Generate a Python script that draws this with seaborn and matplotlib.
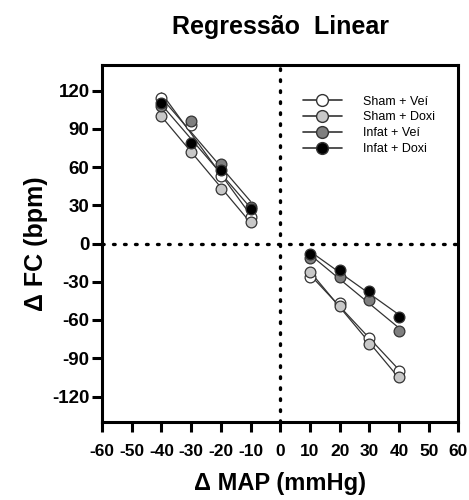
"""Linear regression of heart rate vs MAP changes, by group."""
import numpy as np
import pandas as pd
import matplotlib
matplotlib.use("Agg")
import matplotlib.pyplot as plt
from matplotlib.lines import Line2D
import seaborn as sns

# data
groups = ['Sham + Veí', 'Sham + Doxi', 'Infat + Veí', 'Infat + Doxi']
colors = ['#ffffff', '#c8c8c8', '#7f7f7f', '#000000']

map_neg = [-40, -30, -20, -10]
map_pos = [10, 20, 30, 40]

fc_neg = {
    'Sham + Veí':   [114, 93, 53, 21],
    'Sham + Doxi':  [100, 72, 43, 17],
    'Infat + Veí':  [108, 96, 62, 29],
    'Infat + Doxi': [110, 79, 58, 27],
}
fc_pos = {
    'Sham + Veí':   [-26, -47, -74, -100],
    'Sham + Doxi':  [-22, -49, -79, -105],
    'Infat + Veí':  [-11, -26, -44, -69],
    'Infat + Doxi': [-8, -21, -37, -58],
}

yticks = [-120, -90, -60, -30, 0, 30, 60, 90, 120]
xticks = list(range(-60, 61, 10))

rows = []
for g in groups:
    for x, y in zip(map_neg, fc_neg[g]):
        rows.append((g, 'neg', x, y))
    for x, y in zip(map_pos, fc_pos[g]):
        rows.append((g, 'pos', x, y))
df = pd.DataFrame(rows, columns=['grupo', 'lado', 'map', 'fc'])

sns.set_style('ticks')
plt.rcParams['font.family'] = ['Liberation Sans', 'DejaVu Sans']
for k in ['text.color', 'axes.labelcolor', 'xtick.color', 'ytick.color']:
    plt.rcParams[k] = 'black'

fig = plt.figure(figsize=(4.69, 5.0), dpi=100)
ax = fig.add_axes([0.2175, 0.156, 0.76, 0.714])

dot = (0, (0.5, 2.8))
ax.axhline(0, color='black', lw=2.4, ls=dot, dash_capstyle='round', zorder=1)
ax.axvline(0, color='black', lw=2.4, ls=dot, dash_capstyle='round', zorder=1)

for g, c in zip(groups, colors):
    for lado in ['neg', 'pos']:
        sub = df[(df.grupo == g) & (df.lado == lado)]
        sns.regplot(data=sub, x='map', y='fc', ax=ax, ci=None, truncate=True,
                    scatter_kws=dict(s=60, color=c, edgecolors='#333333',
                                     linewidths=0.9, alpha=1, zorder=3),
                    line_kws=dict(color='#333333', lw=0.9, zorder=2))

ax.set_xlim(-60, 60)
ax.set_ylim(-140, 140)
ax.set_xticks(xticks)
ax.set_yticks(yticks)
ax.set_xticklabels([str(t) for t in xticks], fontsize=12.5, fontweight='bold')
ax.set_yticklabels([str(t) for t in yticks], fontsize=13.5, fontweight='bold')
ax.tick_params(direction='out', length=7, width=2.2)
ax.tick_params(axis='x', pad=9)
ax.tick_params(axis='y', pad=2)
for sp in ax.spines.values():
    sp.set_linewidth(2.2)
    sp.set_color('black')

ax.set_xlabel('Δ MAP (mmHg)', fontsize=17, fontweight='bold', labelpad=9)
ax.set_ylabel('Δ FC (bpm)', fontsize=18, fontweight='bold', labelpad=3)
ax.set_title('Regressão  Linear', fontsize=18, fontweight='bold', pad=22)

handles = [Line2D([0], [0], color='#333333', lw=1.2, marker='o', markersize=8.5,
                  markerfacecolor=c, markeredgecolor='#333333') for c in colors]
ax.legend(handles, groups, loc='upper left', bbox_to_anchor=(0.55, 0.928),
          borderaxespad=0, frameon=False, fontsize=9, handlelength=3.1,
          labelspacing=0.3, handletextpad=1.7)

fig.savefig('out.png', dpi=100)
